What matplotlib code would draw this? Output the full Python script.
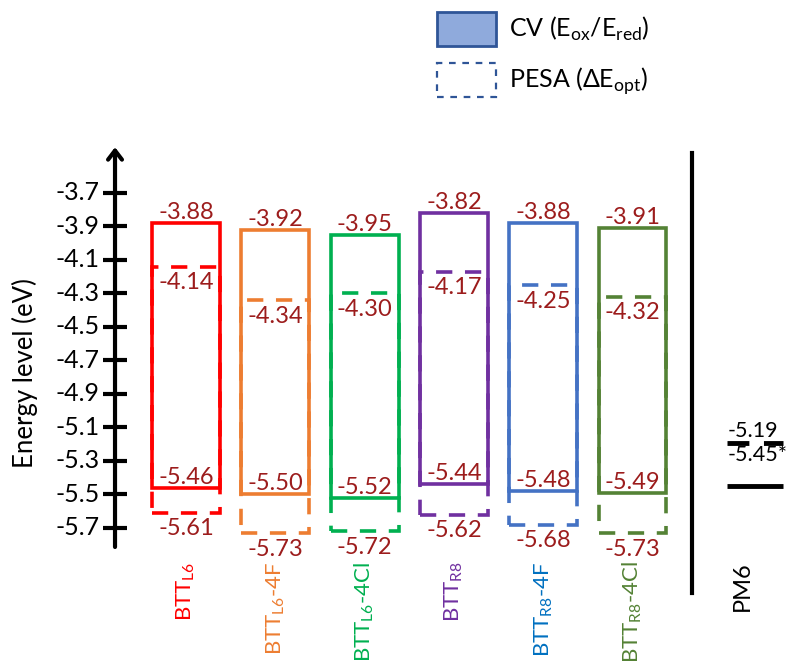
import matplotlib
matplotlib.use("Agg")
import matplotlib.pyplot as plt
from matplotlib.patches import Patch

plt.rcParams['font.family'] = ['Lato', 'DejaVu Sans']
plt.rcParams['mathtext.fontset'] = 'custom'
plt.rcParams['mathtext.rm'] = 'Lato'

# data
names = [r'BTT$_{\mathrm{L6}}$', r'BTT$_{\mathrm{L6}}$-4F', r'BTT$_{\mathrm{L6}}$-4Cl',
         r'BTT$_{\mathrm{R8}}$', r'BTT$_{\mathrm{R8}}$-4F', r'BTT$_{\mathrm{R8}}$-4Cl']
cv_lumo = [-3.88, -3.92, -3.95, -3.82, -3.88, -3.91]
cv_homo = [-5.46, -5.50, -5.52, -5.44, -5.48, -5.49]
pesa_lumo = [-4.14, -4.34, -4.30, -4.17, -4.25, -4.32]
pesa_homo = [-5.61, -5.73, -5.72, -5.62, -5.68, -5.73]
box_colors = ['#FF0000', '#ED7D31', '#00B050', '#7030A0', '#4472C4', '#548235']
label_colors = ['#FF0000', '#ED7D31', '#00B050', '#7030A0', '#0070C0', '#548235']
pm6_pesa = -5.19
pm6_cv = -5.45
yticks = [-3.7, -3.9, -4.1, -4.3, -4.5, -4.7, -4.9, -5.1, -5.3, -5.5, -5.7]

val_color = '#9C1C1C'
vfs = 17

fig = plt.figure(figsize=(7.92, 6.67), dpi=100)
ax = fig.add_axes([0, 0, 1, 1])
ax.set_xlim(-2.083, 6.786)
ax.set_ylim(-6.5299, -2.5478)
ax.axis('off')

x = list(range(len(names)))
w = 0.76

# PESA boxes (dashed) then CV boxes (solid)
ax.bar(x, [l - h for l, h in zip(pesa_lumo, pesa_homo)], bottom=pesa_homo, width=w,
       fill=False, edgecolor=box_colors, linewidth=2.6, linestyle=(0, (4.5, 3.5)))
ax.bar(x, [l - h for l, h in zip(cv_lumo, cv_homo)], bottom=cv_homo, width=w,
       fill=False, edgecolor=box_colors, linewidth=2.6)

for i in x:
    ax.annotate(f'{cv_lumo[i]:.2f}', (i, cv_lumo[i]), xytext=(0, 0), textcoords='offset points',
                ha='center', va='bottom', fontsize=vfs, color=val_color)
    ax.annotate(f'{pesa_lumo[i]:.2f}', (i, pesa_lumo[i]), xytext=(0, -4), textcoords='offset points',
                ha='center', va='top', fontsize=vfs, color=val_color)
    ax.annotate(f'{cv_homo[i]:.2f}', (i, cv_homo[i]), xytext=(0, 0), textcoords='offset points',
                ha='center', va='bottom', fontsize=vfs, color=val_color)
    ax.annotate(f'{pesa_homo[i]:.2f}', (i, pesa_homo[i]), xytext=(0, -4), textcoords='offset points',
                ha='center', va='top', fontsize=vfs, color=val_color)
    ax.text(i, -5.90, names[i], rotation=90, ha='center', va='top', fontsize=16,
            color=label_colors[i])

# energy axis with arrow
ax_x = -0.795
ax.annotate('', xy=(ax_x, -3.41), xytext=(ax_x, -5.83),
            arrowprops=dict(arrowstyle='->,head_length=0.65,head_width=0.5', lw=3, color='black'))
ax.hlines(yticks, ax_x - 0.13, ax_x + 0.13, color='black', lw=3)
for t in yticks:
    ax.text(ax_x - 0.17, t, f'{t:.1f}', ha='right', va='center', fontsize=18)
ax.text(25 / 792, 1 - 373 / 667, 'Energy level (eV)', transform=ax.transAxes,
        rotation=90, ha='center', va='center', fontsize=18.5)

# separator and PM6
ax.plot([5.666, 5.666], [-3.461, -6.088], color='black', lw=3)
ax.hlines(pm6_pesa, 6.06, 6.685, color='black', lw=3.5, linestyle=(0, (4.5, 3)))
ax.hlines(pm6_cv, 6.06, 6.685, color='black', lw=3.5)
ax.annotate(f'{pm6_pesa:.2f}', (6.06, pm6_pesa), xytext=(0, 1), textcoords='offset points',
            ha='left', va='bottom', fontsize=15.5)
ax.annotate(f'{pm6_cv:.2f}*', (6.06, pm6_pesa), xytext=(0, -2), textcoords='offset points',
            ha='left', va='top', fontsize=15.5)
ax.text(6.226, -5.90, 'PM6', rotation=90, ha='center', va='top', fontsize=17)

handles = [Patch(facecolor='#8FAADC', edgecolor='#2F5597', linewidth=2),
           Patch(facecolor='none', edgecolor='#2F5597', linewidth=1.6, linestyle=(0, (3, 3)))]
ax.legend(handles, [r'CV (E$_{\mathrm{ox}}$/E$_{\mathrm{red}}$)', r'PESA (ΔE$_{\mathrm{opt}}$)'],
          loc='upper left', bbox_to_anchor=(437 / 792, 1 - 12 / 667), frameon=False,
          fontsize=18, handlelength=2.36, handleheight=1.72, labelspacing=0.68,
          handletextpad=0.52, borderpad=0, borderaxespad=0)

fig.savefig('out.png', dpi=100)
